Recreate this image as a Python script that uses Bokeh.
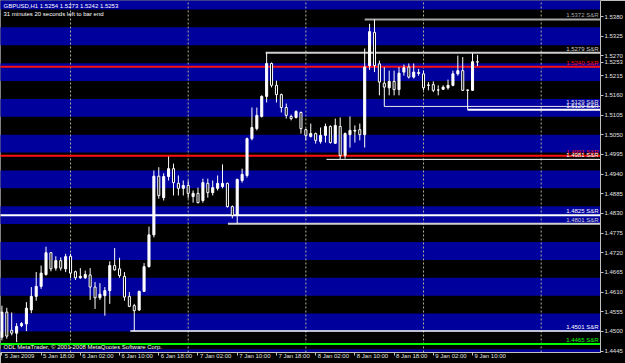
from bokeh.plotting import figure
from bokeh.models import Range1d, FixedTicker, NumeralTickFormatter, Label, ColumnDataSource, LinearAxis
from bokeh.core.properties import value
from bokeh.embed import file_html
from bokeh.resources import INLINE

# ---------------- data ----------------
symbol_line = "GBPUSD,H1  1.5254 1.5273 1.5242 1.5253"
timer_line = "31 minutes 20 seconds left to bar end"
copyright_line = "ODL MetaTrader, \u00a9 2001-2008 MetaQuotes Software Corp."
current_price = 1.5253

# hourly GBPUSD bars, 5 Jan 2009 10:00 .. 9 Jan 2009 11:00
opens = [1.4484, 1.4554, 1.4503, 1.4495, 1.4516, 1.4521, 1.4560, 1.4598, 1.4626, 1.4659,
         1.4720, 1.4677, 1.4698, 1.4675, 1.4710, 1.4667, 1.4650, 1.4650, 1.4658, 1.4624,
         1.4594, 1.4600, 1.4614, 1.4684, 1.4675, 1.4654, 1.4598, 1.4572, 1.4560, 1.4612,
         1.4681, 1.4770, 1.4934, 1.4874, 1.4933, 1.4955, 1.4914, 1.4900, 1.4908, 1.4877,
         1.4886, 1.4866, 1.4914, 1.4888, 1.4900, 1.4905, 1.4914, 1.4849, 1.4824, 1.4922,
         1.4936, 1.5039, 1.5067, 1.5101, 1.5157, 1.5249, 1.5188, 1.5162, 1.5126, 1.5101,
         1.5098, 1.5112, 1.5064, 1.5045, 1.5053, 1.5031, 1.5048, 1.5073, 1.5026, 1.5073,
         1.4992, 1.5050, 1.5060, 1.5064, 1.5050, 1.5243, 1.5336, 1.5248, 1.5194, 1.5181,
         1.5199, 1.5176, 1.5225, 1.5239, 1.5211, 1.5224, 1.5220, 1.5188, 1.5190, 1.5175,
         1.5177, 1.5181, 1.5188, 1.5220, 1.5229, 1.5174, 1.5174, 1.5254]
highs = [1.4572, 1.4566, 1.4553, 1.4523, 1.4526, 1.4582, 1.4624, 1.4666, 1.4684, 1.4737,
         1.4722, 1.4710, 1.4707, 1.4717, 1.4717, 1.4670, 1.4677, 1.4670, 1.4677, 1.4638,
         1.4635, 1.4624, 1.4696, 1.4733, 1.4706, 1.4666, 1.4610, 1.4577, 1.4614, 1.4691,
         1.4793, 1.4950, 1.4959, 1.4942, 1.4989, 1.4969, 1.4936, 1.4922, 1.4922, 1.4894,
         1.4902, 1.4927, 1.4927, 1.4922, 1.4936, 1.4967, 1.4916, 1.4852, 1.4927, 1.4955,
         1.5042, 1.5126, 1.5126, 1.5160, 1.5279, 1.5252, 1.5201, 1.5165, 1.5137, 1.5106,
         1.5118, 1.5115, 1.5067, 1.5081, 1.5056, 1.5070, 1.5081, 1.5076, 1.5095, 1.5098,
         1.5056, 1.5101, 1.5076, 1.5081, 1.5291, 1.5360, 1.5372, 1.5257, 1.5239, 1.5229,
         1.5229, 1.5239, 1.5246, 1.5249, 1.5249, 1.5234, 1.5229, 1.5197, 1.5199, 1.5188,
         1.5188, 1.5204, 1.5229, 1.5271, 1.5267, 1.5176, 1.5278, 1.5273]
lows = [1.4475, 1.4480, 1.4489, 1.4470, 1.4512, 1.4501, 1.4551, 1.4586, 1.4619, 1.4656,
        1.4668, 1.4670, 1.4670, 1.4666, 1.4649, 1.4644, 1.4647, 1.4647, 1.4588, 1.4563,
        1.4588, 1.4544, 1.4577, 1.4670, 1.4650, 1.4586, 1.4568, 1.4501, 1.4557, 1.4610,
        1.4679, 1.4763, 1.4871, 1.4866, 1.4922, 1.4880, 1.4880, 1.4880, 1.4872, 1.4860,
        1.4858, 1.4860, 1.4874, 1.4880, 1.4894, 1.4900, 1.4846, 1.4816, 1.4801, 1.4916,
        1.4930, 1.5034, 1.5062, 1.5098, 1.5140, 1.5182, 1.5140, 1.5112, 1.5095, 1.5090,
        1.5095, 1.5053, 1.5034, 1.5042, 1.5025, 1.5025, 1.5028, 1.5025, 1.5024, 1.4981,
        1.4983, 1.5014, 1.5028, 1.5034, 1.5014, 1.5231, 1.5225, 1.5160, 1.5129, 1.5160,
        1.5160, 1.5160, 1.5215, 1.5207, 1.5207, 1.5215, 1.5174, 1.5174, 1.5169, 1.5160,
        1.5175, 1.5176, 1.5185, 1.5215, 1.5172, 1.5120, 1.5172, 1.5242]
closes = [1.4554, 1.4487, 1.4495, 1.4514, 1.4522, 1.4565, 1.4598, 1.4626, 1.4663, 1.4720,
          1.4675, 1.4698, 1.4677, 1.4709, 1.4663, 1.4650, 1.4654, 1.4659, 1.4624, 1.4594,
          1.4604, 1.4614, 1.4684, 1.4672, 1.4656, 1.4596, 1.4570, 1.4558, 1.4612, 1.4681,
          1.4770, 1.4934, 1.4880, 1.4933, 1.4955, 1.4916, 1.4900, 1.4908, 1.4886, 1.4886,
          1.4860, 1.4916, 1.4888, 1.4902, 1.4914, 1.4914, 1.4849, 1.4824, 1.4925, 1.4939,
          1.5039, 1.5070, 1.5104, 1.5157, 1.5249, 1.5188, 1.5162, 1.5126, 1.5104, 1.5095,
          1.5115, 1.5067, 1.5048, 1.5053, 1.5034, 1.5048, 1.5073, 1.5028, 1.5076, 1.4992,
          1.5053, 1.5062, 1.5062, 1.5050, 1.5239, 1.5338, 1.5243, 1.5197, 1.5183, 1.5199,
          1.5176, 1.5222, 1.5237, 1.5211, 1.5225, 1.5221, 1.5181, 1.5189, 1.5174, 1.5175,
          1.5183, 1.5188, 1.5220, 1.5229, 1.5174, 1.5175, 1.5254, 1.5253]

time_tick_bars = [0, 8, 16, 24, 32, 40, 48, 56, 64, 72, 80, 88, 96]
time_tick_labels = ["5 Jan 2009", "5 Jan 18:00", "6 Jan 02:00", "6 Jan 10:00", "6 Jan 18:00",
                    "7 Jan 02:00", "7 Jan 10:00", "7 Jan 18:00", "8 Jan 02:00", "8 Jan 10:00",
                    "8 Jan 18:00", "9 Jan 02:00", "9 Jan 10:00"]
day_start_bars = [14, 38, 62, 86, 110]
price_ticks = [1.5380, 1.5325, 1.5270, 1.5215, 1.5160, 1.5105, 1.5050, 1.4995, 1.4940,
               1.4885, 1.4830, 1.4775, 1.4720, 1.4665, 1.4610, 1.4555, 1.4500, 1.4445]
band_bottoms = [1.4400, 1.4500, 1.4600, 1.4700, 1.4800, 1.4900, 1.5000, 1.5100, 1.5200, 1.5300, 1.5400]
band_tops = [1.4450, 1.4550, 1.4650, 1.4750, 1.4850, 1.4950, 1.5050, 1.5150, 1.5250, 1.5350, 1.5450]

sr_prices = [1.5372, 1.5279, 1.5240, 1.5129, 1.5120, 1.4991, 1.4981, 1.4825, 1.4801, 1.4501, 1.4465]
sr_start_bars = [74, 53.8, None, 78, 95, None, 66.2, None, 46.1, 26.2, None]   # None = whole chart

# ---------------- styles ----------------
sr_colors = ["#a8a8a8", "#cfcfcf", "#ff1010", "#e8e8e8", "#ffffff", "#ff1010", "#ffffff",
             "#ffffff", "#d0d0d0", "#ffffff", "#00ff00"]
sr_widths = [2, 2, 2, 1, 2, 2, 1, 2, 2, 1.5, 2]
FONT = "Liberation Sans"
BG = "#000000"
BAND = "#00009c"
TXT = "#e0e0e0"
AXC = "#c0c0c0"
label_shift = 3.6   # time labels start just right of their tick, as in MetaTrader

x_lo, x_hi = -0.285, 122.1
y_lo, y_hi = 1.44411, 1.54251

p = figure(width=625, height=363, output_backend="svg", toolbar_location=None,
           x_range=Range1d(x_lo, x_hi), y_range=Range1d(y_lo, y_hi),
           y_axis_location="right", x_axis_location=None,
           min_border_left=0, min_border_right=0, min_border_top=0, min_border_bottom=11,
           background_fill_color=BG, border_fill_color=BG)
p.grid.visible = False
p.outline_line_color = "#808080"

# background bands
p.quad(left=x_lo - 2, right=x_hi + 2, bottom=band_bottoms, top=band_tops,
       fill_color=BAND, line_color=None)

# day separators
p.segment(x0=day_start_bars, y0=y_lo, x1=day_start_bars, y1=y_hi,
          line_color="#b0b098", line_width=1, line_dash="2 2")

# S&R lines
seg_x0 = [x_lo - 1 if s is None else s for s in sr_start_bars]
sr_src = ColumnDataSource(dict(x0=seg_x0, x1=[x_hi + 1] * len(sr_prices), y=sr_prices,
                               c=sr_colors, w=sr_widths,
                               lab=["%.4f S&R" % v for v in sr_prices],
                               xl=[x_hi] * len(sr_prices)))
p.segment(x0="x0", y0="y", x1="x1", y1="y", line_color="c", line_width="w", source=sr_src)
p.text(x="xl", y="y", text="lab", text_color="c", text_align="right", text_baseline="bottom",
       x_offset=-2, y_offset=-1, text_font=value(FONT), text_font_size="6px", source=sr_src)

# candles
idx = list(range(len(opens)))
p.segment(x0=idx, y0=lows, x1=idx, y1=highs, line_color="#ffffff", line_width=1)
bull = [i for i in idx if closes[i] >= opens[i]]
bear = [i for i in idx if closes[i] < opens[i]]
p.vbar(x=bull, bottom=[opens[i] for i in bull], top=[closes[i] for i in bull], width=0.42,
       fill_color="#ffffff", line_color="#ffffff", line_width=1)
p.vbar(x=bear, bottom=[closes[i] for i in bear], top=[opens[i] for i in bear], width=0.42,
       fill_color="#000000", line_color="#ffffff", line_width=1)

# price axis
ya = p.yaxis[0]
ya.ticker = FixedTicker(ticks=price_ticks + [current_price])
ya.formatter = NumeralTickFormatter(format="0.0000")
ya.major_label_text_font = FONT
ya.major_label_text_font_size = "6px"
ya.major_label_text_color = TXT
ya.major_tick_out = 3
ya.major_tick_in = 0
ya.minor_tick_line_color = None
ya.major_tick_line_color = AXC
ya.axis_line_color = AXC
ya.major_label_standoff = 1

# time axis: labels on a shifted copy of the bar scale so they sit right of the ticks
p.extra_x_ranges = {"timelab": Range1d(x_lo - label_shift, x_hi - label_shift)}
xa = LinearAxis(x_range_name="timelab",
                ticker=FixedTicker(ticks=time_tick_bars,
                                   minor_ticks=[b - label_shift for b in time_tick_bars]),
                major_label_overrides={b: t for b, t in zip(time_tick_bars, time_tick_labels)},
                major_tick_line_color=None, major_tick_out=0, major_tick_in=0,
                minor_tick_line_color=AXC, minor_tick_out=3, minor_tick_in=0,
                axis_line_color=AXC, major_label_standoff=-3,
                major_label_text_font=FONT, major_label_text_font_size="6px",
                major_label_text_line_height=1.0,
                major_label_text_color=TXT)
p.add_layout(xa, "below")

# header and footer texts
p.add_layout(Label(x=3, y=350, x_units="screen", y_units="screen", text=symbol_line,
                   text_baseline="top", text_font=FONT, text_font_size="6px", text_color="#ffffff"))
p.add_layout(Label(x=3, y=342, x_units="screen", y_units="screen", text=timer_line,
                   text_baseline="top", text_font=FONT, text_font_size="6px", text_color="#ffffff"))
p.add_layout(Label(x=3, y=3, x_units="screen", y_units="screen", text=copyright_line,
                   text_baseline="bottom", text_font=FONT, text_font_size="6px", text_color="#ffffff"))

open("out.html", "w").write(file_html(p, INLINE))
